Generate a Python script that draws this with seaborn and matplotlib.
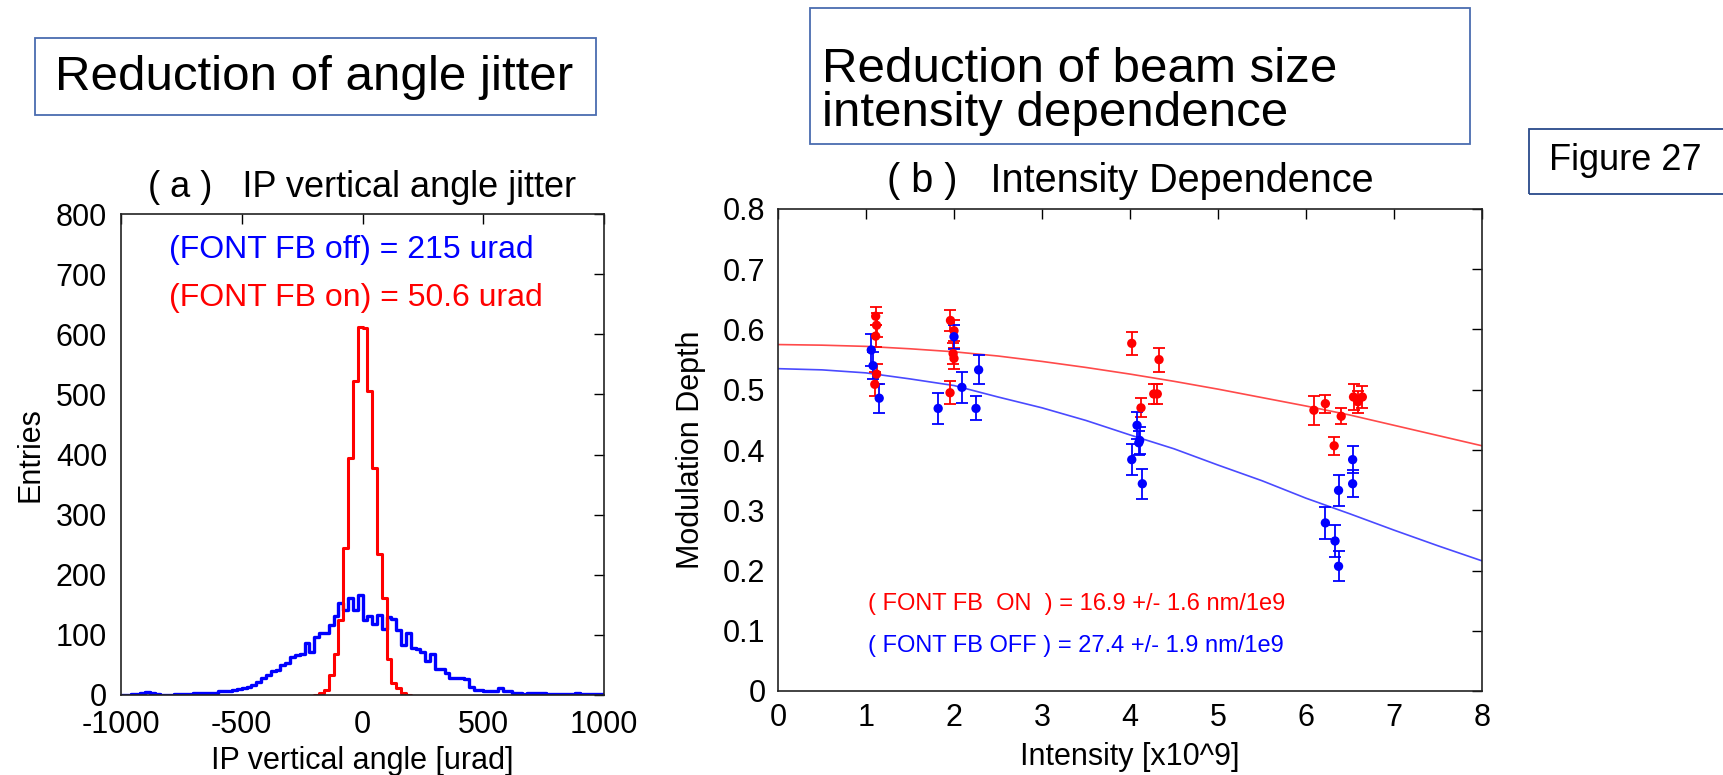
import numpy as np
import pandas as pd
import matplotlib
matplotlib.use("Agg")
import matplotlib.pyplot as plt
import seaborn as sns
from matplotlib.patches import Rectangle

sns.set_style("white")
plt.rcParams['font.family'] = ['Liberation Sans', 'DejaVu Sans']
plt.rcParams['text.color'] = 'black'
plt.rcParams['axes.labelcolor'] = 'black'
plt.rcParams['axes.unicode_minus'] = False

# (a) histogram counts, 20 urad bins from -1000 to 1000
fb_off_counts = [0, 0, 1, 2, 3, 5, 4, 1, 0, 0,
                 0, 1, 2, 2, 2, 3, 3, 3, 3, 4,
                 6, 7, 7, 8, 10, 11, 14, 16, 22, 29,
                 33, 40, 42, 50, 53, 64, 66, 69, 86, 72,
                 97, 103, 103, 117, 131, 153, 142, 161, 142, 167,
                 125, 131, 118, 133, 110, 129, 126, 108, 83, 103,
                 79, 76, 72, 56, 69, 44, 44, 36, 28, 28,
                 28, 26, 14, 8, 8, 7, 7, 7, 11, 7,
                 6, 3, 3, 2, 3, 3, 4, 4, 2, 1,
                 1, 2, 2, 2, 3, 2, 2, 1, 1, 1]
# FB on only has entries between -200 and 200
fb_on_counts = [0, 3, 9, 33, 68, 125, 245, 395, 522, 612,
                610, 505, 378, 234, 162, 60, 20, 12, 3, 0]

# (b) modulation depth vs intensity
on_x = [1.11, 1.12, 1.11, 1.12, 1.10, 1.96, 2.00, 1.99, 2.00, 1.955,
        4.02, 4.33, 4.125, 4.27, 4.31, 6.09, 6.22, 6.40, 6.32, 6.54, 6.59, 6.64]
on_y = [0.622, 0.607, 0.589, 0.526, 0.509, 0.615, 0.598, 0.560, 0.552, 0.495,
        0.577, 0.550, 0.470, 0.493, 0.493, 0.466, 0.477, 0.456, 0.407, 0.488, 0.480, 0.488]
on_err = [0.015, 0.02, 0.018, 0.017, 0.02, 0.017, 0.017, 0.017, 0.017, 0.019,
          0.019, 0.02, 0.016, 0.016, 0.016, 0.024, 0.015, 0.013, 0.015, 0.022, 0.018, 0.019]

off_x = [1.06, 1.08, 1.15, 2.00, 1.82, 2.09, 2.28, 2.25,
         4.08, 4.11, 4.10, 4.02, 4.14, 6.53, 6.53, 6.37, 6.22, 6.33, 6.37]
off_y = [0.566, 0.540, 0.486, 0.588, 0.469, 0.504, 0.533, 0.469,
         0.441, 0.416, 0.412, 0.384, 0.344, 0.384, 0.344, 0.333, 0.279, 0.249, 0.207]
off_err = [0.027, 0.022, 0.024, 0.02, 0.026, 0.026, 0.024, 0.02,
           0.022, 0.022, 0.02, 0.026, 0.025, 0.023, 0.022, 0.026, 0.027, 0.026, 0.025]

# fitted curves
fit_x = [0, 0.5, 1, 1.5, 2, 2.5, 3, 3.5, 4, 4.5, 5, 5.5, 6, 6.5, 7, 7.5, 8]
fit_on = [0.575, 0.574, 0.572, 0.568, 0.563, 0.556, 0.547, 0.537, 0.526,
          0.514, 0.501, 0.487, 0.473, 0.458, 0.441, 0.424, 0.407]
fit_off = [0.535, 0.533, 0.528, 0.518, 0.507, 0.488, 0.470, 0.449, 0.425,
           0.402, 0.375, 0.349, 0.320, 0.294, 0.267, 0.241, 0.216]

W, H = 1724, 775
fig = plt.figure(figsize=(W / 100, H / 100), dpi=100)

def style_axes(ax):
    ax.tick_params(direction='in', length=7, width=1, top=True, right=True,
                   labelsize=22, pad=9, colors='black')
    for s in ax.spines.values():
        s.set_linewidth(1.2)
        s.set_color('#222222')

# ---- (a) angle jitter histogram
ax1 = fig.add_axes([121 / W, 80 / H, 483 / W, 481 / H])
edges = list(range(-1000, 1001, 20))
on_edges = list(range(-200, 201, 20))
off_df = pd.DataFrame({"angle": [e + 10 for e in edges[:-1]], "n": fb_off_counts})
on_df = pd.DataFrame({"angle": [e + 10 for e in on_edges[:-1]], "n": fb_on_counts})
sns.histplot(data=off_df, x="angle", weights="n", bins=edges, element="step",
             fill=False, color="blue", linewidth=2.4, ax=ax1)
sns.histplot(data=on_df, x="angle", weights="n", bins=on_edges, element="step",
             fill=False, color="red", linewidth=2.2, ax=ax1)
ax1.set_xlim(-1000, 1000)
ax1.set_ylim(0, 800)
ax1.set_xticks([-1000, -500, 0, 500, 1000])
ax1.set_yticks(range(0, 801, 100))
style_axes(ax1)
ax1.tick_params(axis='y', pad=10)
ax1.tick_params(axis='x', pad=11)
ax1.set_xlabel("IP vertical angle [urad]", fontsize=22)
ax1.set_ylabel("Entries", fontsize=22)
ax1.xaxis.set_label_coords(0.5, -0.105)
ax1.yaxis.set_label_coords(-0.157, 0.5)
ax1.set_title("( a )   IP vertical angle jitter", fontsize=26, pad=12)
ax1.text(-801, 740, "(FONT FB off) = 215 urad", color="blue", fontsize=23, va="center")
ax1.text(-801, 661, "(FONT FB on) = 50.6 urad", color="red", fontsize=23, va="center")

# ---- (b) intensity dependence
ax2 = fig.add_axes([778 / W, 84 / H, 704 / W, 482 / H])
sns.lineplot(x=fit_x, y=fit_on, color="#ff4a4a", linewidth=1.2, ax=ax2)
sns.lineplot(x=fit_x, y=fit_off, color="#4a4aff", linewidth=1.2, ax=ax2)
ax2.errorbar(on_x, on_y, yerr=on_err, fmt='none', ecolor='red', elinewidth=1.3,
             capsize=4, capthick=1.3)
ax2.errorbar(off_x, off_y, yerr=off_err, fmt='none', ecolor='blue', elinewidth=1.3,
             capsize=4, capthick=1.3)
sns.scatterplot(x=on_x, y=on_y, color="red", s=45, edgecolor="none", ax=ax2, zorder=3)
sns.scatterplot(x=off_x, y=off_y, color="blue", s=45, edgecolor="none", ax=ax2, zorder=3)
ax2.set_xlim(0, 8)
ax2.set_ylim(0, 0.8)
ax2.set_xticks(range(0, 9))
ax2.set_yticks(np.arange(0, 0.81, 0.1))
ax2.set_yticklabels(["0", "0.1", "0.2", "0.3", "0.4", "0.5", "0.6", "0.7", "0.8"])
style_axes(ax2)
ax2.set_xlabel("Intensity [x10^9]", fontsize=22)
ax2.set_ylabel("Modulation Depth", fontsize=22)
ax2.xaxis.set_label_coords(0.5, -0.105)
ax2.yaxis.set_label_coords(-0.102, 0.5)
ax2.set_title("( b )   Intensity Dependence", fontsize=28.5, pad=12)
ax2.text(1.02, 0.144, "( FONT FB  ON  ) = 16.9 +/- 1.6 nm/1e9", color="red", fontsize=17, va="center")
ax2.text(1.02, 0.075, "( FONT FB OFF ) = 27.4 +/- 1.9 nm/1e9", color="blue", fontsize=17, va="center")

# ---- caption boxes (pixel positions from the top left)
def box(x0, y0, x1, y1, color="#4a6cb0"):
    fig.patches.append(Rectangle((x0 / W, 1 - y1 / H), (x1 - x0) / W, (y1 - y0) / H,
                                 transform=fig.transFigure, fill=False,
                                 edgecolor=color, linewidth=1.3))

box(35, 38, 596, 115)
fig.text(55 / W, 1 - 78 / H, "Reduction of angle jitter", fontsize=35.5, va="center")
box(810, 8, 1470, 144)
fig.text(822 / W, 1 - 69 / H, "Reduction of beam size", fontsize=35.5, va="center")
fig.text(822 / W, 1 - 114 / H, "intensity dependence", fontsize=35.5, va="center")
box(1529, 129, 1740, 194, color="#2a4a8a")
fig.text(1549 / W, 1 - 161 / H, "Figure 27", fontsize=26, va="center")

fig.savefig("out.png", dpi=100)
